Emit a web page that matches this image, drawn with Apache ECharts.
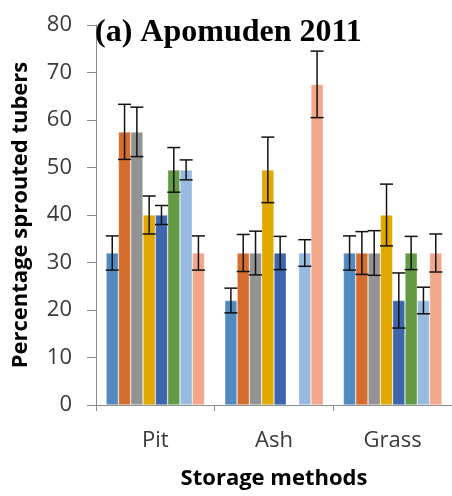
<!DOCTYPE html>
<html>
<head>
<meta charset="utf-8">
<script src="https://cdn.jsdelivr.net/npm/echarts@6/dist/echarts.min.js"></script>
<style>
  html, body { margin: 0; padding: 0; background: #fff; }
  #chart { width: 452px; height: 496px; }
</style>
</head>
<body>
<div id="chart"></div>
<script>
// Storage methods on the x axis
const categories = ['Pit', 'Ash', 'Grass'];

// Mean percentage of sprouted tubers per treatment (null = not present)
const treat1 = [32, 22, 32];
const treat2 = [57.5, 32, 32];
const treat3 = [57.5, 32, 32];
const treat4 = [40, 49.5, 40];
const treat5 = [40, 32, 22];
const treat6 = [49.5, null, 32];
const treat7 = [49.5, 32, 22];
const treat8 = [32, 67.5, 32];

// Standard errors for each treatment
const err1 = [3.6, 2.6, 3.6];
const err2 = [5.8, 3.9, 4.5];
const err3 = [5.2, 4.6, 4.7];
const err4 = [4.0, 6.9, 6.5];
const err5 = [2.0, 3.5, 5.8];
const err6 = [4.7, null, 3.5];
const err7 = [2.1, 2.8, 2.8];
const err8 = [3.6, 7.0, 4.0];

const yTicks = { min: 0, max: 80, interval: 10 };

const means = [treat1, treat2, treat3, treat4, treat5, treat6, treat7, treat8];
const errors = [err1, err2, err3, err4, err5, err6, err7, err8];
const colors = ['#508AC0', '#D46E2E', '#939393', '#E1A800', '#3D66AE', '#649A43', '#98BAE0', '#F2A78B'];

const catGap = 0.17;
const nSeries = means.length;

const barSeries = means.map((vals, i) => ({
  type: 'bar',
  name: 'T' + (i + 1),
  data: vals.map(v => (v === null ? '-' : v)),
  barGap: '0%',
  barCategoryGap: (catGap * 100) + '%',
  itemStyle: { color: colors[i], borderColor: 'rgba(255,255,255,0.55)', borderWidth: 0.6 },
  silent: true,
  z: 2
}));

// Error bar records: [category index, treatment index, low, high]
const errData = [];
means.forEach((vals, i) => {
  vals.forEach((v, c) => {
    const e = errors[i][c];
    if (v !== null && e !== null) errData.push([c, i, v - e, v + e]);
  });
});

const errorSeries = {
  type: 'custom',
  data: errData,
  z: 5,
  silent: true,
  renderItem: function (params, api) {
    const c = api.value(0);
    const i = api.value(1);
    const catW = api.size([1, 0])[0];
    const bw = catW * (1 - catGap) / nSeries;
    const lo = api.coord([c, api.value(2)]);
    const hi = api.coord([c, api.value(3)]);
    const x = lo[0] + (i - nSeries / 2 + 0.5) * bw;
    const half = 6.5;
    const style = { stroke: '#111', lineWidth: 1.5 };
    return {
      type: 'group',
      children: [
        { type: 'line', shape: { x1: x, y1: lo[1], x2: x, y2: hi[1] }, style: style },
        { type: 'line', shape: { x1: x - half, y1: hi[1], x2: x + half, y2: hi[1] }, style: style },
        { type: 'line', shape: { x1: x - half, y1: lo[1], x2: x + half, y2: lo[1] }, style: style }
      ]
    };
  }
};

const axisGray = '#8C8C8C';
const sansFont = '"Open Sans", "Liberation Sans", sans-serif';

const chart = echarts.init(document.getElementById('chart'), null, { renderer: 'canvas' });
chart.setOption({
  animation: false,
  backgroundColor: '#fff',
  title: {
    text: '(a) Apomuden 2011',
    left: 90,
    top: 12,
    textStyle: {
      fontFamily: '"Liberation Serif", "Times New Roman", serif',
      fontWeight: 'bold',
      fontSize: 32,
      color: '#000'
    }
  },
  grid: { left: 96, top: 25, width: 359, height: 380, containLabel: false },
  xAxis: {
    type: 'category',
    data: categories,
    name: 'Storage methods',
    nameLocation: 'middle',
    nameGap: 63,
    nameTextStyle: { fontFamily: sansFont, fontWeight: 'bold', fontSize: 22, color: '#000' },
    axisLine: { lineStyle: { color: axisGray, width: 1 } },
    axisTick: { show: true, length: 6, lineStyle: { color: axisGray } },
    axisLabel: { margin: 25, fontFamily: sansFont, fontSize: 22, color: '#3A3A3A' }
  },
  yAxis: {
    type: 'value',
    min: yTicks.min,
    max: yTicks.max,
    interval: yTicks.interval,
    name: 'Percentage sprouted tubers',
    nameLocation: 'middle',
    nameRotate: 90,
    nameGap: 64,
    nameTextStyle: { fontFamily: sansFont, fontWeight: 'bold', fontSize: 22, color: '#000' },
    axisLine: { show: true, lineStyle: { color: axisGray, width: 1 } },
    axisTick: { show: true, length: 9, lineStyle: { color: axisGray } },
    splitLine: { show: false },
    axisLabel: { margin: 24, fontFamily: sansFont, fontSize: 22, color: '#3A3A3A' }
  },
  series: barSeries.concat([errorSeries])
});
</script>
</body>
</html>
